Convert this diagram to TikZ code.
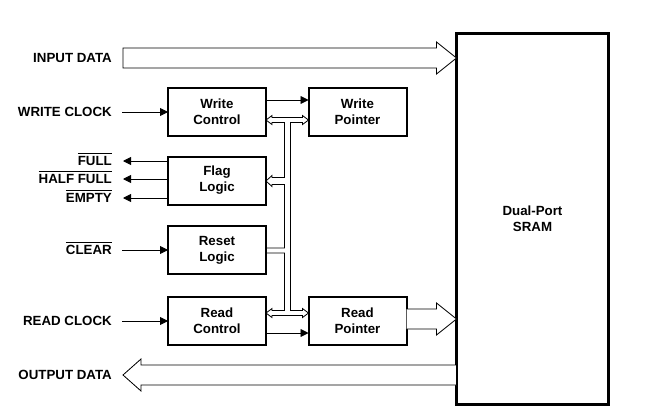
\documentclass[tikz,border=0pt]{standalone}
\usepackage{fontspec}
\setmainfont{Liberation Sans}
\usetikzlibrary{calc,arrows.meta}
\newcommand{\notsig}[1]{\vbox{\hrule height 1.3pt\kern 2.5pt\hbox{#1}}}

\begin{document}
\begin{tikzpicture}[x=1pt,y=-1pt,
    every node/.style={font=\bfseries\fontsize{13.3}{16}\selectfont},
    blk/.style={draw,line width=2pt,minimum width=98pt,minimum height=48pt,align=center,outer sep=0pt,inner sep=0pt},
    sig/.style={anchor=east,inner sep=0pt,text height=9.5pt,text depth=0pt},
    wire/.style={line width=0.9pt,-{Triangle[length=8pt,width=8pt]}},
    fat/.style={line width=0.8pt,fill=white,line join=miter},
    bus/.style={line width=0.8pt,line join=miter}]
    \useasboundingbox (0,0) rectangle (662,418);
    \node[blk,minimum width=152pt,minimum height=371pt,line width=3pt] (sram) at (532.5,219) {Dual-Port\\SRAM};
    \node[blk] (wc) at (217,112) {Write\\Control};
    \node[blk] (wp) at (357.5,112) {Write\\Pointer};
    \node[blk] (fl) at (217,180.5) {Flag\\Logic};
    \node[blk] (rl) at (217,250) {Reset\\Logic};
    \node[blk] (rc) at (217,321) {Read\\Control};
    \node[blk] (rp) at (357.5,321) {Read\\Pointer};
    \node[sig] (indata) at (112,58) {INPUT DATA};
    \node[sig] (wclk) at (112,112) {WRITE CLOCK};
    \node[sig] (full) at (112,161) {\notsig{FULL}};
    \node[sig] (half) at (112,179) {\notsig{HALF FULL}};
    \node[sig] (empty) at (112,198) {\notsig{EMPTY}};
    \node[sig] (clr) at (112,250) {\notsig{CLEAR}};
    \node[sig] (rclk) at (112,321) {READ CLOCK};
    \node[sig] (outdata) at (112,375) {OUTPUT DATA};
    \draw[wire] ([xshift=10pt]wclk.east) -- (wc.west);
    \draw[wire] ($(wc.east)+(0,-12)$) -- ($(wp.west)+(0,-12)$);
    \draw[wire] (fl.west |- full) -- ([xshift=11pt]full.east);
    \draw[wire] (fl.west |- half) -- ([xshift=11pt]half.east);
    \draw[wire] (fl.west |- empty) -- ([xshift=11pt]empty.east);
    \draw[wire] ([xshift=10pt]clr.east) -- (rl.west);
    \draw[wire] ([xshift=10pt]rclk.east) -- (rc.west);
    \draw[wire] ($(rc.east)+(0,12)$) -- ($(rp.west)+(0,12)$);
    \draw[fat] ($(indata.east)+(11,-10)$) -- ($(sram.west |- indata)+(-20,-10)$) -- ++(0,-6) -- (sram.west |- indata)
        -- ++(-20,16) -- ++(0,-6) -- ($(indata.east)+(11,10)$) -- cycle;
    \draw[fat] ([xshift=11pt]outdata.east) -- ++(18,-16) -- ++(0,6) -- ($(sram.west |- outdata)+(0,-10)$) -- ++(0,20)
        -- ($(outdata.east)+(29,10)$) -- ++(0,6) -- cycle;
    \coordinate (ro) at ($(rp.east)+(0,-2)$);
    \draw[fat] ($(ro)+(0,-10)$) -- ($(sram.west |- ro)+(-20,-10)$) -- ++(0,-6) -- (sram.west |- ro)
        -- ++(-20,16) -- ++(0,-6) -- ($(ro)+(0,10)$);
    \coordinate (tl) at ($(wc.east)+(0,8)$);
    \coordinate (tr) at ($(wp.west)+(0,8)$);
    \coordinate (bl) at ($(rc.east)+(0,-8)$);
    \coordinate (br) at ($(rp.west)+(0,-8)$);
    \coordinate (fa) at ($(fl.east)+(0,0.5)$);
    \draw[bus] (tl) -- ++(6,-4.5) -- ++(0,2) -- ($(tr)+(-6,-2.5)$) -- ++(0,-2) -- (tr) -- ++(-6,4.5) -- ++(0,-2)
        -- ($(tl)+(24.5,2.5)$) -- ($(bl)+(24.5,-2.5)$) -- ($(br)+(-6,-2.5)$) -- ++(0,-2) -- (br) -- ++(-6,4.5)
        -- ++(0,-2) -- ($(bl)+(6,2.5)$) -- ++(0,2) -- (bl) -- ++(6,-4.5) -- ++(0,2) -- ($(bl)+(18.5,-2.5)$)
        -- ($(rl.east)+(18.5,3)$) -- ($(rl.east)+(0,3)$);
    \draw[bus] ($(rl.east)+(0,-2)$) -- ($(rl.east)+(18.5,-2)$) -- ($(fa)+(18.5,3.5)$) -- ($(fa)+(6,3.5)$) -- ++(0,2)
        -- (fa) -- ++(6,-5.5) -- ++(0,2) -- ($(fa)+(18.5,-3.5)$) -- ($(tl)+(18.5,2.5)$) -- ($(tl)+(6,2.5)$)
        -- ++(0,2) -- (tl);
\end{tikzpicture}
\end{document}
